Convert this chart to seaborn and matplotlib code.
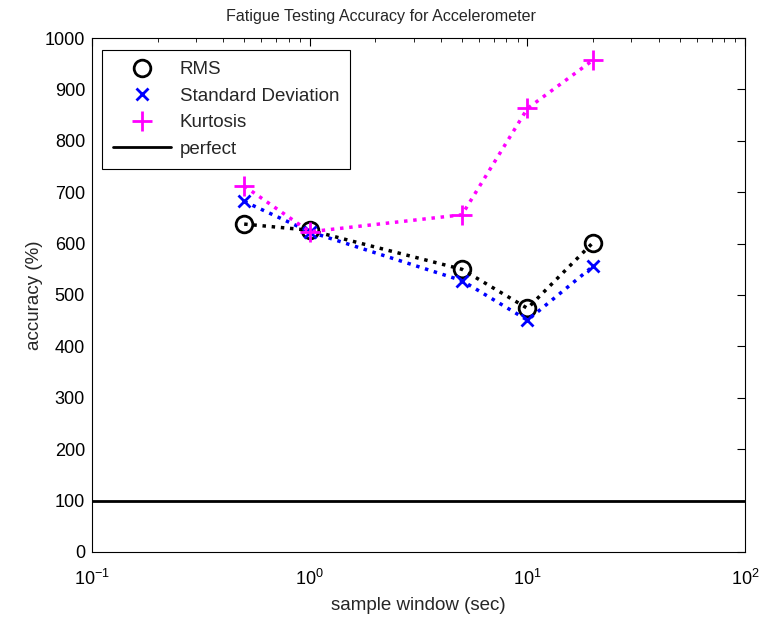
import numpy as np
import pandas as pd
import matplotlib
matplotlib.use("Agg")
import matplotlib.pyplot as plt
from matplotlib.lines import Line2D
import seaborn as sns

# Values
windows = [0.5, 1, 5, 10, 20]
rms = [638, 626, 550, 474, 602]
std_dev = [682, 623, 528, 451, 556]
kurtosis = [712, 623, 656, 863, 957]
perfect = 100

sns.set_style("white")
plt.rcParams['font.family'] = ['Liberation Sans', 'DejaVu Sans']
plt.rcParams['mathtext.fontset'] = 'custom'
plt.rcParams['mathtext.rm'] = 'Liberation Sans'
plt.rcParams['mathtext.it'] = 'Liberation Sans'

df = pd.DataFrame({
    "window": windows * 3,
    "accuracy": rms + std_dev + kurtosis,
    "feature": ["RMS"] * 5 + ["Standard Deviation"] * 5 + ["Kurtosis"] * 5,
})

fig = plt.figure(figsize=(7.62, 6.2), dpi=100)
ax = fig.add_axes([0.1207, 0.1097, 0.8573, 0.829])

styles = {
    "RMS": dict(color="black", marker="o", ms=12, mfc="none", mew=2),
    "Standard Deviation": dict(color="blue", marker="x", ms=9, mew=2),
    "Kurtosis": dict(color="magenta", marker="+", ms=14, mew=2),
}
for name, st in styles.items():
    sub = df[df["feature"] == name]
    sns.lineplot(data=sub, x="window", y="accuracy", ax=ax, color=st["color"],
                 linestyle=":", linewidth=2.5, marker=st["marker"],
                 markersize=st["ms"], markeredgewidth=st["mew"],
                 markerfacecolor=st.get("mfc", st["color"]),
                 markeredgecolor=st["color"], legend=False)

ax.axhline(perfect, color="black", linewidth=2)

ax.set_xscale("log")
ax.set_xlim(0.1, 100)
ax.set_ylim(0, 1000)
ax.set_yticks(np.arange(0, 1001, 100))
ax.set_xticks([0.1, 1, 10, 100])
ax.set_xticklabels([r"10$^{-1}$", r"10$^{0}$", r"10$^{1}$", r"10$^{2}$"])
ax.tick_params(axis="both", which="both", direction="in", top=True, right=True,
               labelsize=13, colors="black")
ax.tick_params(axis="y", pad=5)
ax.tick_params(axis="x", pad=12)
ax.tick_params(which="major", length=6)
ax.tick_params(which="minor", length=3)
for s in ax.spines.values():
    s.set_color("black")
    s.set_linewidth(0.8)

# title is centred on the figure in the reference, not on the axes
ax.set_title("Fatigue Testing Accuracy for Accelerometer", fontsize=11.6, pad=12,
             x=(0.5 - 0.1207) / 0.8573)
ax.set_xlabel("sample window (sec)", fontsize=13.5, labelpad=6)
ax.set_ylabel("accuracy (%)", fontsize=13.5, labelpad=1)

handles = [
    Line2D([], [], color="black", marker="o", ms=12, mfc="none", mew=2, linestyle="none"),
    Line2D([], [], color="blue", marker="x", ms=9, mew=2, linestyle="none"),
    Line2D([], [], color="magenta", marker="+", ms=14, mew=2, linestyle="none"),
    Line2D([], [], color="black", linewidth=2),
]
leg = ax.legend(handles, ["RMS", "Standard Deviation", "Kurtosis", "perfect"],
                loc="upper left", bbox_to_anchor=(0.015, 0.977), fontsize=13.5,
                fancybox=False, framealpha=1, edgecolor="black",
                borderaxespad=0, handlelength=3.1, labelspacing=0.5,
                handletextpad=0.45, borderpad=0.6)
leg.get_frame().set_linewidth(0.8)

fig.savefig("out.png", dpi=100)
